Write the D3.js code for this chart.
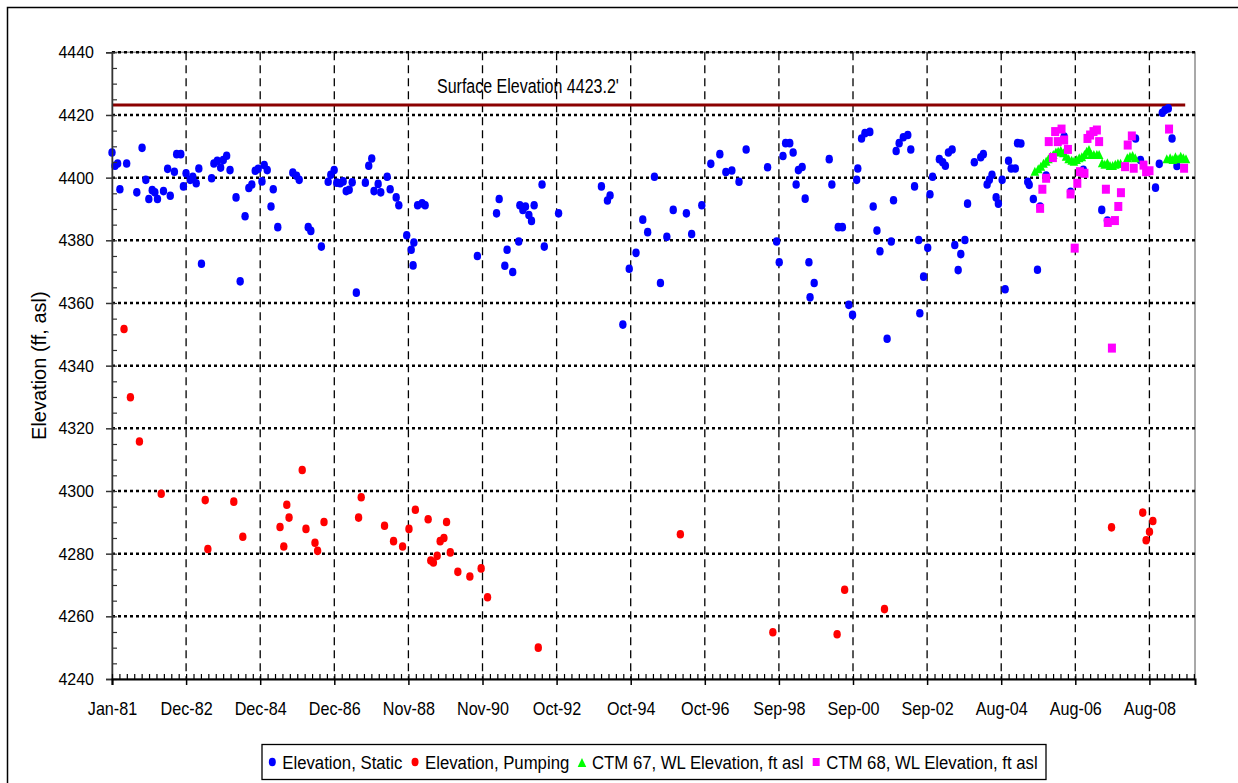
<!DOCTYPE html>
<html>
<head>
<meta charset="utf-8" />
<title>Well water level elevation</title>
<script src="https://d3js.org/d3.v7.min.js"></script>
<style>
    body { margin: 0; background: #fff; }
    svg text { font-family: 'Liberation Sans', Arial, Helvetica, sans-serif; fill: #000; }
</style>
</head>
<body>
<div id="chart"></div>
<script>
// values: [decimal year, elevation ft]
var staticPts = [
    [1981.00,4408.0],[1981.08,4403.8],[1981.15,4404.5],[1981.21,4396.3],[1981.39,4404.5],[1981.66,4395.3],
    [1981.80,4409.5],[1981.90,4399.3],[1981.98,4393.2],[1982.07,4396.0],[1982.14,4395.3],[1982.21,4393.2],
    [1982.37,4395.7],[1982.48,4402.8],[1982.55,4394.2],[1982.66,4401.9],[1982.72,4407.5],[1982.83,4407.5],
    [1982.90,4397.2],[1982.97,4401.4],[1983.08,4399.3],[1983.15,4400.3],[1983.24,4398.2],[1983.31,4402.9],
    [1983.38,4372.5],[1983.65,4399.8],[1983.71,4404.5],[1983.80,4405.4],[1983.89,4403.2],[1983.96,4405.6],
    [1984.05,4407.0],[1984.14,4402.4],[1984.30,4393.7],[1984.41,4366.9],[1984.54,4387.7],[1984.64,4396.7],
    [1984.72,4397.8],[1984.81,4402.2],[1984.89,4402.8],[1984.99,4398.8],[1985.05,4404.0],[1985.13,4402.4],
    [1985.23,4390.8],[1985.29,4396.3],[1985.41,4384.2],[1985.81,4401.6],[1985.91,4400.6],[1985.98,4399.3],
    [1986.22,4384.2],[1986.29,4383.0],[1986.57,4378.0],[1986.75,4398.7],[1986.82,4400.9],[1986.91,4402.4],
    [1986.98,4398.4],[1987.07,4398.2],[1987.15,4398.8],[1987.23,4395.7],[1987.31,4396.1],[1987.39,4398.5],
    [1987.50,4363.3],[1987.74,4398.4],[1987.83,4403.8],[1987.91,4406.1],[1987.97,4395.7],[1988.08,4398.0],
    [1988.15,4395.3],[1988.32,4400.3],[1988.40,4396.3],[1988.56,4393.7],[1988.63,4391.2],[1988.84,4381.6],
    [1988.96,4377.0],[1989.01,4372.0],[1989.03,4379.3],[1989.13,4391.2],[1989.25,4391.8],[1989.33,4391.2],
    [1990.72,4375.0],[1991.23,4388.6],[1991.30,4393.2],[1991.45,4371.9],[1991.51,4377.0],[1991.66,4369.9],
    [1991.82,4379.6],[1991.85,4391.2],[1991.93,4389.7],[1992.00,4390.8],[1992.09,4388.1],[1992.16,4386.2],
    [1992.23,4391.2],[1992.44,4397.8],[1992.50,4378.0],[1992.88,4388.6],[1994.02,4397.2],[1994.18,4392.7],
    [1994.25,4394.3],[1994.59,4353.1],[1994.76,4370.9],[1994.94,4376.0],[1995.12,4386.6],[1995.25,4382.6],
    [1995.43,4400.3],[1995.59,4366.4],[1995.76,4381.1],[1995.93,4389.7],[1996.28,4388.6],[1996.42,4382.0],
    [1996.69,4391.2],[1996.93,4404.4],[1997.17,4407.5],[1997.33,4401.8],[1997.49,4402.3],[1997.68,4398.7],
    [1997.87,4409.0],[1998.44,4403.3],[1998.68,4379.6],[1998.75,4373.0],[1998.85,4406.9],[1998.92,4411.0],
    [1999.03,4411.0],[1999.12,4408.0],[1999.20,4397.8],[1999.26,4402.4],[1999.36,4403.4],[1999.44,4393.3],
    [1999.54,4373.0],[1999.57,4361.8],[1999.68,4366.4],[2000.08,4405.9],[2000.15,4397.8],[2000.32,4384.2],
    [2000.43,4384.2],[2000.60,4359.4],[2000.70,4356.2],[2000.81,4399.3],[2000.84,4402.9],[2000.94,4412.5],
    [2001.03,4414.2],[2001.16,4414.6],[2001.25,4390.8],[2001.35,4383.1],[2001.43,4376.5],[2001.62,4348.6],
    [2001.73,4379.6],[2001.79,4392.8],[2001.86,4408.5],[2001.94,4411.0],[2002.05,4412.9],[2002.17,4413.6],
    [2002.25,4409.0],[2002.35,4397.2],[2002.46,4380.1],[2002.49,4356.7],[2002.59,4368.4],[2002.70,4377.6],
    [2002.76,4394.7],[2002.83,4400.3],[2003.01,4405.9],[2003.10,4404.9],[2003.17,4403.8],[2003.25,4408.0],
    [2003.35,4409.0],[2003.42,4378.5],[2003.51,4370.5],[2003.58,4375.6],[2003.69,4380.1],[2003.76,4391.7],
    [2003.94,4404.9],[2004.11,4406.5],[2004.18,4407.5],[2004.28,4397.8],[2004.34,4399.3],[2004.41,4400.9],
    [2004.52,4393.7],[2004.58,4391.7],[2004.68,4399.3],[2004.76,4364.4],[2004.85,4405.4],[2004.92,4402.9],
    [2005.03,4402.9],[2005.09,4411.0],[2005.18,4410.9],[2005.36,4398.7],[2005.40,4397.7],[2005.51,4393.2],
    [2005.62,4370.6],[2005.69,4390.8],[2005.85,4400.7],[2006.33,4413.1],[2006.50,4395.5],[2006.84,4402.5],
    [2007.33,4389.7],[2007.48,4386.3],[2008.23,4412.5],[2008.36,4405.6],[2008.76,4396.8],[2008.86,4404.4],
    [2008.94,4420.7],[2009.01,4421.6],[2009.10,4422.1],[2009.20,4412.5],[2009.33,4403.7]
];

var pumpingPts = [
    [1981.32,4351.7],[1981.49,4329.9],[1981.73,4315.8],[1982.31,4299.1],[1983.48,4297.1],[1983.55,4281.5],
    [1984.24,4296.6],[1984.48,4285.4],[1985.47,4288.5],[1985.57,4282.3],[1985.65,4295.6],[1985.71,4291.5],
    [1986.06,4306.7],[1986.16,4287.9],[1986.40,4283.5],[1986.47,4280.9],[1986.64,4290.1],[1987.56,4291.5],
    [1987.63,4298.0],[1988.25,4288.9],[1988.49,4284.0],[1988.73,4282.3],[1988.90,4287.9],[1989.07,4294.0],
    [1989.41,4291.0],[1989.48,4277.8],[1989.55,4277.2],[1989.65,4279.3],[1989.73,4284.0],[1989.83,4285.0],
    [1989.90,4290.1],[1990.00,4280.4],[1990.20,4274.2],[1990.52,4272.7],[1990.82,4275.3],[1990.99,4266.1],
    [1992.34,4250.0],[1996.12,4286.2],[1998.58,4254.9],[2000.29,4254.3],[2000.49,4268.5],[2001.55,4262.3],
    [2007.59,4288.4],[2008.42,4293.1],[2008.51,4284.3],[2008.60,4287.0],[2008.69,4290.4]
];

var ctm67Pts = [
    [2005.55,4401.9],[2005.64,4402.7],[2005.71,4403.5],[2005.78,4404.4],[2005.85,4405.1],[2005.91,4405.9],
    [2005.97,4406.7],[2006.04,4407.2],[2006.11,4408.0],[2006.17,4408.3],[2006.24,4408.6],[2006.31,4407.8],
    [2006.38,4406.7],[2006.45,4405.9],[2006.53,4405.4],[2006.59,4405.1],[2006.66,4405.6],[2006.73,4406.2],
    [2006.80,4406.5],[2006.87,4407.2],[2006.93,4408.3],[2006.99,4408.8],[2007.05,4407.2],[2007.12,4407.2],
    [2007.20,4407.2],[2007.26,4407.2],[2007.34,4404.6],[2007.41,4404.1],[2007.48,4404.6],[2007.55,4403.7],
    [2007.62,4403.7],[2007.69,4404.1],[2007.76,4404.4],[2007.83,4404.4],[2008.01,4406.2],[2008.08,4406.7],
    [2008.15,4406.9],[2008.22,4406.2],[2009.06,4405.9],[2009.15,4406.2],[2009.22,4405.6],[2009.29,4406.5],
    [2009.36,4405.9],[2009.43,4406.7],[2009.50,4406.2],[2009.57,4405.9]
];

var ctm68Pts = [
    [2005.69,4390.2],[2005.75,4396.3],[2005.85,4399.8],[2005.92,4411.5],[2006.03,4406.4],[2006.09,4414.7],
    [2006.16,4411.5],[2006.26,4415.5],[2006.33,4412.0],[2006.43,4409.0],[2006.50,4394.8],[2006.61,4377.5],
    [2006.68,4398.2],[2006.75,4401.9],[2006.87,4401.4],[2006.95,4412.5],[2007.02,4413.6],[2007.11,4414.7],
    [2007.20,4415.2],[2007.26,4411.5],[2007.44,4396.3],[2007.49,4385.7],[2007.60,4345.6],[2007.68,4386.3],
    [2007.77,4390.8],[2007.84,4395.2],[2007.95,4403.5],[2008.02,4410.4],[2008.13,4413.3],[2008.18,4403.0],
    [2008.44,4404.0],[2008.51,4401.9],[2008.60,4402.2],[2009.12,4415.5],[2009.52,4403.0]
];

var surfacePts = [[1981.0, 4423.2], [2009.55, 4423.2]];
var surfaceLabel = "Surface Elevation 4423.2'";

var seriesNames = ["Elevation, Static", "Elevation, Pumping", "CTM 67, WL Elevation, ft asl", "CTM 68, WL Elevation, ft asl"];
var seriesColors = ["#0000ff", "#ff0000", "#00ff00", "#ff00ff"];

var xTickLabels = ["Jan-81", "Dec-82", "Dec-84", "Dec-86", "Nov-88", "Nov-90", "Oct-92", "Oct-94",
                   "Oct-96", "Sep-98", "Sep-00", "Sep-02", "Aug-04", "Aug-06", "Aug-08"];
var yTicks = [4240, 4260, 4280, 4300, 4320, 4340, 4360, 4380, 4400, 4420, 4440];
var yTitle = "Elevation (ff, asl)";

// page and plot area
var width = 1238, height = 783;
var plotL = 112, plotT = 52.3, plotR = 1195, plotB = 679;

var start = new Date(1981, 0, 1);
var end = d3.timeDay.offset(start, 10523);
var majorStep = 720, minorStep = 72;

function toDate(yr) {
    return new Date(+start + (yr - 1981) * 365.25 * 864e5);
}

// squeeze text horizontally (the original chart is stretched vertically)
function squeeze(sel, k) {
    sel.each(function () {
        var w = this.getComputedTextLength();
        d3.select(this).attr("textLength", w * k).attr("lengthAdjust", "spacingAndGlyphs");
    });
}

var svg = d3.select("#chart").append("svg")
    .attr("width", width).attr("height", height);

// outer chart frame (only the top and left edges are in view)
svg.append("rect")
    .attr("x", 7.5).attr("y", 7.5).attr("width", width + 20).attr("height", height + 20)
    .attr("fill", "#fff").attr("stroke", "#000").attr("stroke-width", 1.5);

var x = d3.scaleTime().domain([start, end]).range([plotL, plotR]);
var y = d3.scaleLinear().domain([4240, 4440]).range([plotB, plotT]);

var majorDates = xTickLabels.map(function (d, i) { return d3.timeDay.offset(start, majorStep * i); });
var minorDates = d3.range(0, 10523, minorStep).map(function (d) { return d3.timeDay.offset(start, d); });
var minorY = d3.range(4240, 4441, 5);

// plot area border
svg.append("rect")
    .attr("x", plotL).attr("y", plotT).attr("width", plotR - plotL).attr("height", plotB - plotT)
    .attr("fill", "#fff").attr("stroke", "#8c8c8c").attr("stroke-width", 1.5);

// vertical dashed gridlines
svg.append("g").selectAll("line")
    .data(majorDates.slice(1))
    .enter().append("line")
    .attr("x1", function (d) { return x(d); }).attr("x2", function (d) { return x(d); })
    .attr("y1", plotT).attr("y2", plotB)
    .attr("stroke", "#000").attr("stroke-width", 1.3).attr("stroke-dasharray", "8,5");

// horizontal dotted gridlines
svg.append("g").selectAll("line")
    .data(yTicks.slice(1))
    .enter().append("line")
    .attr("x1", plotL).attr("x2", plotR)
    .attr("y1", function (d) { return y(d); }).attr("y2", function (d) { return y(d); })
    .attr("stroke", "#000").attr("stroke-width", 2.5).attr("stroke-dasharray", "3,3");

// surface elevation line
var line = d3.line()
    .x(function (d) { return x(toDate(d[0])); })
    .y(function (d) { return y(d[1]); });

svg.append("path")
    .datum(surfacePts)
    .attr("d", line)
    .attr("fill", "none").attr("stroke", "#8b0000").attr("stroke-width", 3);

svg.append("text")
    .attr("x", 437).attr("y", 92.5)
    .style("font-size", "20px")
    .text(surfaceLabel)
    .call(squeeze, 0.8);

// markers
var triangle = "M0,-5L4.3,4L-4.3,4Z";

function drawSeries(data, color, shape) {
    var g = svg.append("g");
    var pts = g.selectAll("g").data(data).enter().append("g")
        .attr("transform", function (d) { return "translate(" + x(toDate(d[0])) + "," + y(d[1]) + ")"; });
    if (shape === "circle") {
        pts.append("ellipse").attr("rx", 3.7).attr("ry", 4.3).attr("fill", color);
    } else if (shape === "triangle") {
        pts.append("path").attr("d", triangle).attr("fill", color);
    } else {
        pts.append("rect").attr("x", -4).attr("y", -4.5).attr("width", 8).attr("height", 9).attr("fill", color);
    }
}

drawSeries(staticPts, seriesColors[0], "circle");
drawSeries(pumpingPts, seriesColors[1], "circle");
drawSeries(ctm67Pts, seriesColors[2], "triangle");
drawSeries(ctm68Pts, seriesColors[3], "square");

// axes
var yAxis = svg.append("g")
    .attr("transform", "translate(" + plotL + ",0)")
    .call(d3.axisLeft(y).tickValues(yTicks).tickSize(6).tickPadding(12).tickFormat(d3.format("d")));
yAxis.select(".domain").attr("stroke", "#333").attr("stroke-width", 1.5);
yAxis.selectAll(".tick line").attr("stroke", "#333").attr("stroke-width", 1.5);
yAxis.selectAll("text").style("font-size", "17px").attr("fill", "#000").call(squeeze, 0.94);

svg.append("g")
    .attr("transform", "translate(" + plotL + ",0)")
    .call(d3.axisLeft(y).tickValues(minorY).tickSize(-5).tickFormat(""))
    .call(function (g) { g.select(".domain").remove(); })
    .selectAll("line").attr("stroke", "#333").attr("stroke-width", 1.2);

var xAxis = svg.append("g")
    .attr("transform", "translate(0," + plotB + ")")
    .call(d3.axisBottom(x).tickValues(majorDates).tickSize(6).tickPadding(17)
        .tickFormat(function (d, i) { return xTickLabels[i]; }));
xAxis.select(".domain").attr("stroke", "#000").attr("stroke-width", 2);
xAxis.selectAll(".tick line").attr("stroke", "#000").attr("stroke-width", 1.5);
xAxis.selectAll("text").style("font-size", "19px").attr("fill", "#000").call(squeeze, 0.85);

svg.append("g")
    .attr("transform", "translate(0," + plotB + ")")
    .call(d3.axisBottom(x).tickValues(minorDates).tickSize(-5).tickFormat(""))
    .call(function (g) { g.select(".domain").remove(); })
    .selectAll("line").attr("stroke", "#000").attr("stroke-width", 1.2);

// y axis title
svg.append("text")
    .attr("transform", "translate(46," + ((plotT + plotB) / 2) + ") rotate(-90)")
    .attr("text-anchor", "middle")
    .style("font-size", "20px")
    .text(yTitle);

// legend
var legend = svg.append("g");
legend.append("rect")
    .attr("x", 262).attr("y", 744.5).attr("width", 784).attr("height", 35)
    .attr("fill", "#fff").attr("stroke", "#000").attr("stroke-width", 1.3);

var shapes = ["circle", "circle", "triangle", "square"];
var cursor = 262;
seriesNames.forEach(function (name, i) {
    var mx = cursor + (i === 0 ? 10.3 : 12.7);
    var my = 762;
    if (shapes[i] === "circle") {
        legend.append("ellipse").attr("cx", mx).attr("cy", my).attr("rx", 3.5).attr("ry", 4.2).attr("fill", seriesColors[i]);
    } else if (shapes[i] === "triangle") {
        legend.append("path").attr("transform", "translate(" + mx + "," + (my + 1) + ")").attr("d", triangle).attr("fill", seriesColors[i]);
    } else {
        legend.append("rect").attr("x", mx - 3.5).attr("y", my - 4).attr("width", 7).attr("height", 8).attr("fill", seriesColors[i]);
    }
    var t = legend.append("text")
        .attr("x", mx + 10).attr("y", 768.5)
        .style("font-size", "18px")
        .text(name)
        .call(squeeze, 0.93);
    cursor = mx + 10 + (+t.attr("textLength"));
});
</script>
</body>
</html>
